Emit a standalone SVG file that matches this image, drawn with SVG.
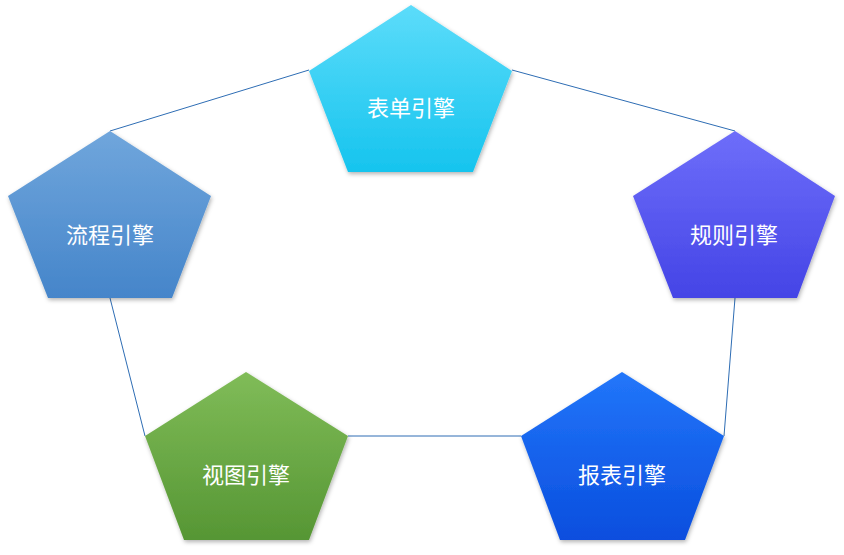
<svg xmlns="http://www.w3.org/2000/svg" width="844" height="555" viewBox="0 0 844 555">
<style>
.c{stroke:#2e6db4;stroke-width:1;fill:none}
.t{font-family:"Noto Sans CJK SC","Noto Sans",sans-serif;font-size:22px;fill:#fff;text-anchor:middle}
.p{filter:url(#sh)}
</style>
<defs>
<filter id="sh" x="-10%" y="-10%" width="130%" height="130%"><feDropShadow dx="1" dy="2" stdDeviation="2" flood-opacity="0.3"/></filter>
<linearGradient id="g1" x1="0" y1="0" x2="0" y2="1"><stop offset="0" stop-color="#5cdcfa"/><stop offset="1" stop-color="#16c4ee"/></linearGradient>
<linearGradient id="g2" x1="0" y1="0" x2="0" y2="1"><stop offset="0" stop-color="#70a6dc"/><stop offset="1" stop-color="#4585ca"/></linearGradient>
<linearGradient id="g3" x1="0" y1="0" x2="0" y2="1"><stop offset="0" stop-color="#6e6efa"/><stop offset="1" stop-color="#4444e6"/></linearGradient>
<linearGradient id="g4" x1="0" y1="0" x2="0" y2="1"><stop offset="0" stop-color="#80bc58"/><stop offset="1" stop-color="#569634"/></linearGradient>
<linearGradient id="g5" x1="0" y1="0" x2="0" y2="1"><stop offset="0" stop-color="#2276fa"/><stop offset="1" stop-color="#0a4ede"/></linearGradient>
</defs>
<g id="connectors">
<line class="c" x1="309" y1="70" x2="110" y2="131"/>
<line class="c" x1="512" y1="70" x2="735" y2="131"/>
<line class="c" x1="110" y1="298" x2="145" y2="436"/>
<line class="c" x1="735" y1="298" x2="724" y2="436"/>
<line class="c" x1="348" y1="436" x2="521" y2="436"/>
</g>
<g id="n1"><polygon class="p" fill="url(#g1)" points="411,5 512,71 473,172 348,172 309,71"/><text class="t" x="411" y="116">表单引擎</text></g>
<g id="n2"><polygon class="p" fill="url(#g2)" points="110,131 211,196 172,298 48,298 8,196"/><text class="t" x="110" y="243">流程引擎</text></g>
<g id="n3"><polygon class="p" fill="url(#g3)" points="735,131 835,196 797,298 673,298 633,196"/><text class="t" x="734" y="243">规则引擎</text></g>
<g id="n4"><polygon class="p" fill="url(#g4)" points="246,372 348,436 309,540 184,540 145,436"/><text class="t" x="246" y="483">视图引擎</text></g>
<g id="n5"><polygon class="p" fill="url(#g5)" points="622,372 724,436 685,540 560,540 521,436"/><text class="t" x="622" y="483">报表引擎</text></g>
</svg>
